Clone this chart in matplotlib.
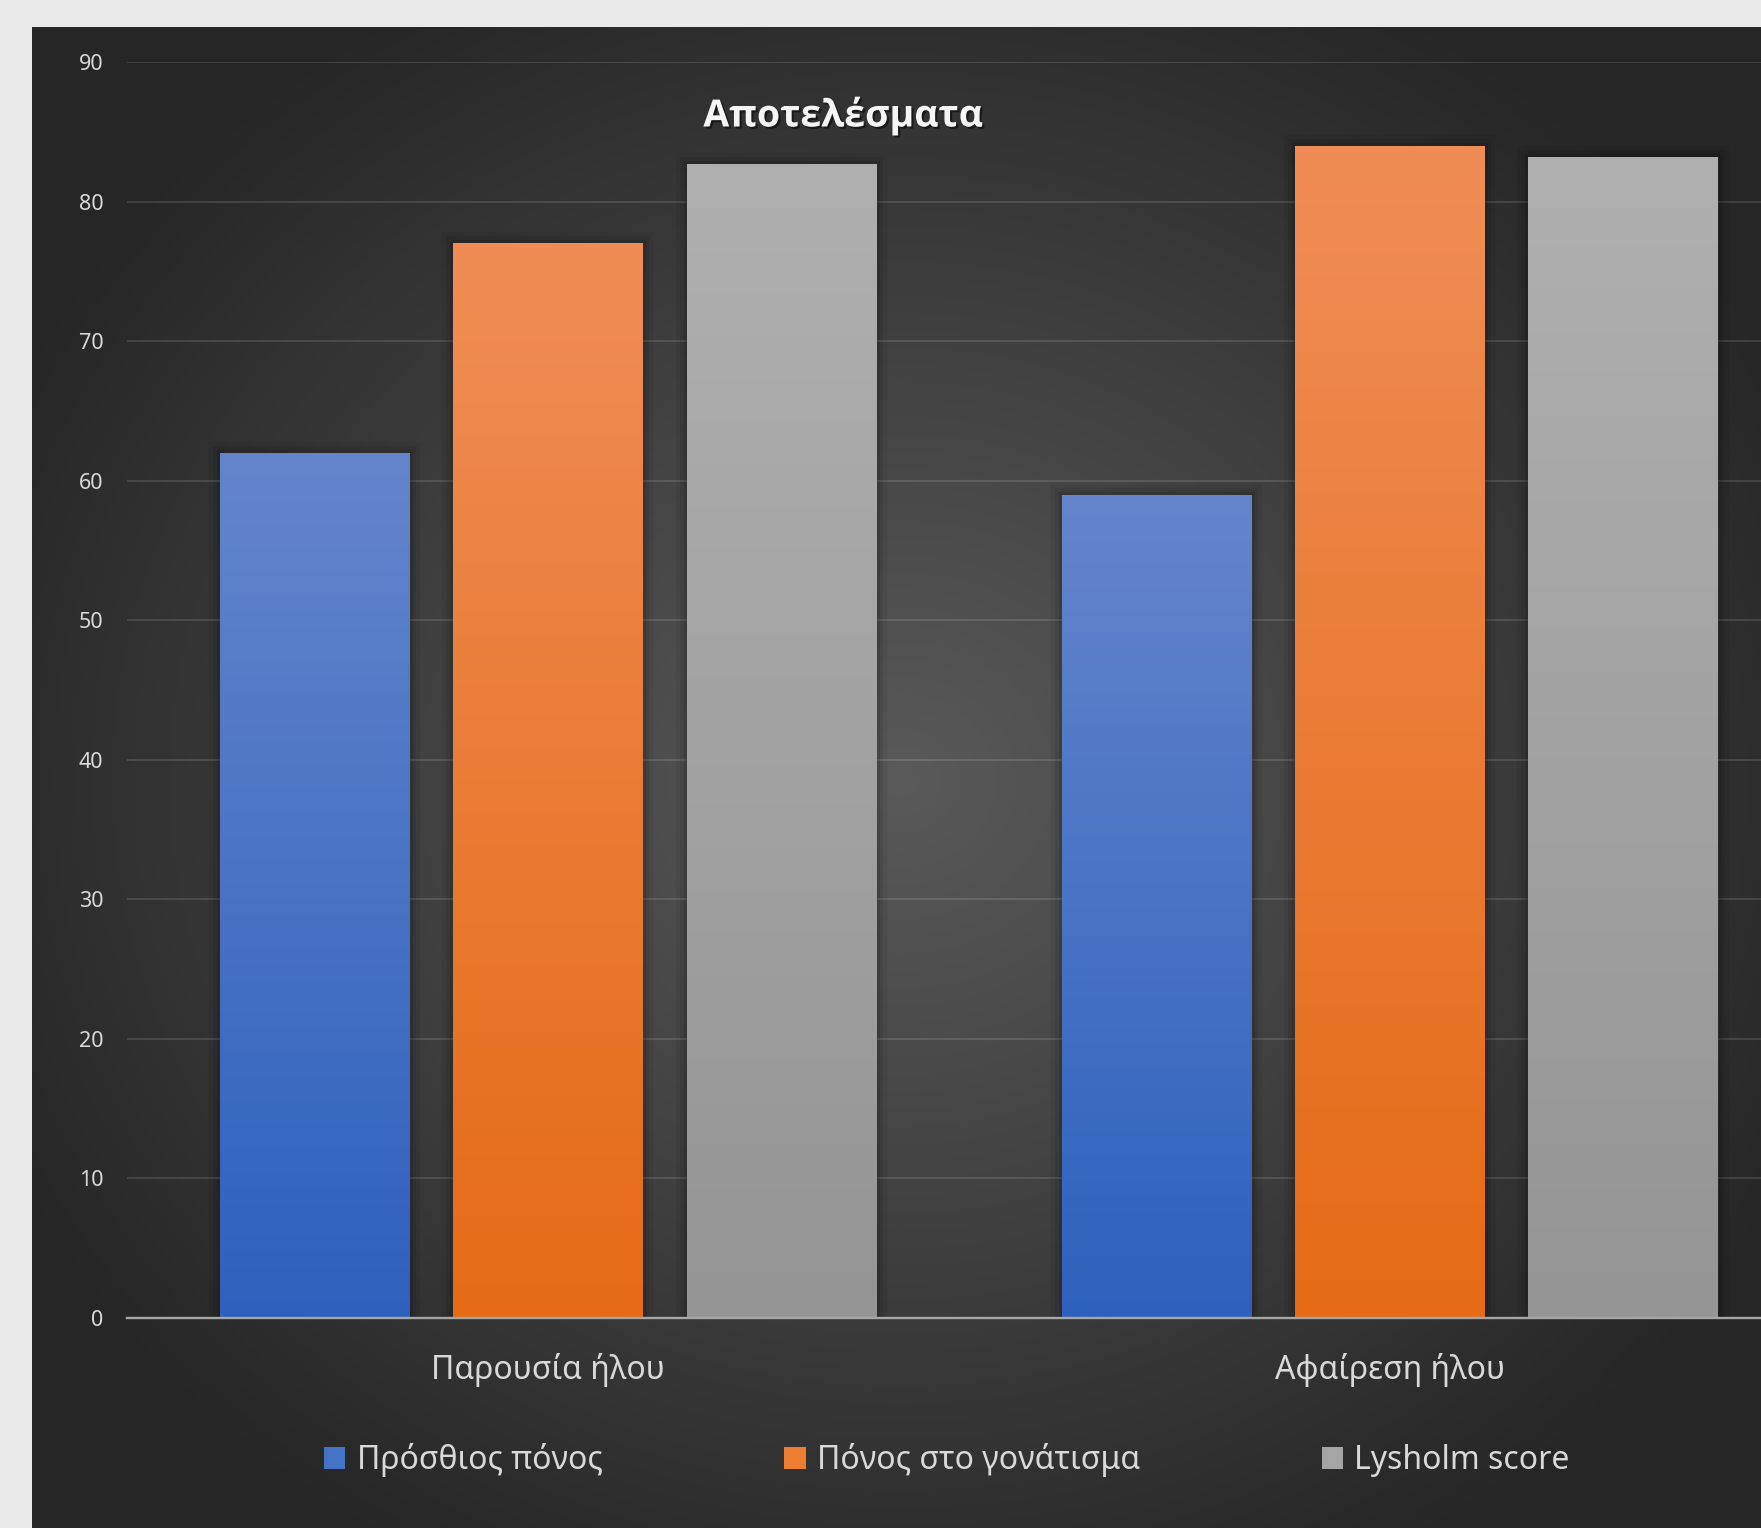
#coding=utf-8
import numpy as np
import matplotlib
matplotlib.use('Agg')
import matplotlib.pyplot as plt
from matplotlib.patches import Patch
import matplotlib.patheffects as pe

plt.rcParams['font.family'] = ['Noto Sans', 'DejaVu Sans']

# data
categories = ['Παρουσία ήλου', 'Αφαίρεση ήλου']
series_names = ['Πρόσθιος πόνος', 'Πόνος στο γονάτισμα', 'Lysholm score']
prosthios = [62, 59]
gonatisma = [77, 84]
lysholm = [82.7, 83.2]
yticks = [0, 10, 20, 30, 40, 50, 60, 70, 80, 90]
title = 'Αποτελέσματα'

# colours (top, bottom) of each bar gradient
grads = [('#6485CC', '#2E61BD'), ('#F08D56', '#E56B16'), ('#B0B0B0', '#959595')]
mids = ['#4472C4', '#ED7D31', '#A5A5A5']

W, H = 1761, 1528
fig = plt.figure(figsize=(W/100, H/100), dpi=100, facecolor='#EAEAEA')

# dark chart background with radial gradient
px0, py0 = 32, 27
bg = fig.add_axes([px0/W, 0, 1-px0/W, 1-py0/H])
yy, xx = np.mgrid[py0:H, px0:W]
cx, cy = 900, 780
r = np.sqrt(((xx-cx)/1000.0)**2 + ((yy-cy)/900.0)**2)
r = np.clip(r, 0, 1)
c_in = np.array([0x5A, 0x5A, 0x5A])/255.0
c_out = np.array([0x26, 0x26, 0x26])/255.0
img = c_in[None, None, :]*(1-r[..., None]) + c_out[None, None, :]*r[..., None]
bg.imshow(img, aspect='auto', interpolation='bilinear')
bg.axis('off')
bg.set_zorder(-10)

# plot area
ax = fig.add_axes([127/W, 1-1318/H, 1-127/W, (1318-62)/H])
ax.set_facecolor('none')

x = np.arange(len(categories))
off = 0.277
bw = 0.2246
data = [prosthios, gonatisma, lysholm]

def hex2rgb(h):
    h = h.lstrip('#')
    return np.array([int(h[i:i+2], 16) for i in (0, 2, 4)])/255.0

for k, vals in enumerate(data):
    bars = ax.bar(x+(k-1)*off, vals, bw, color=mids[k], zorder=3, linewidth=0)
    top, bot = hex2rgb(grads[k][0]), hex2rgb(grads[k][1])
    t = np.linspace(0, 1, 256)[:, None, None]
    g = top[None, None, :]*(1-t) + bot[None, None, :]*t
    for b in bars:
        b.set_path_effects([pe.Stroke(linewidth=16, foreground='k', alpha=0.05),
                            pe.Stroke(linewidth=10, foreground='k', alpha=0.07),
                            pe.Stroke(linewidth=5, foreground='k', alpha=0.1),
                            pe.Normal()])
        x0 = b.get_x()
        im = ax.imshow(g, extent=[x0, x0+b.get_width(), 0, b.get_height()],
                       aspect='auto', zorder=3.5, interpolation='bilinear')
        im.set_clip_path(b)

ax.set_xlim(-0.5, (W-548.5)/841.5)
ax.set_ylim(0, 90)
ax.set_yticks(yticks)
ax.set_xticks(x)
ax.set_xticklabels(categories, fontsize=23, color='#D9D9D9')
ax.tick_params(axis='y', length=0, pad=17, labelsize=15.5, labelcolor='#D9D9D9')
ax.tick_params(axis='x', length=0, pad=25.5)
ax.grid(axis='y', color='white', alpha=0.12, linewidth=1.5, zorder=1)
ax.set_axisbelow(True)
for s in ['top', 'right', 'left']:
    ax.spines[s].set_visible(False)
ax.spines['bottom'].set_color('#A6A6A6')
ax.spines['bottom'].set_linewidth(1.7)
ax.spines['bottom'].set_zorder(5)

# title
fig.text(843/W, 1-116/H, title, ha='center', va='center', fontsize=27,
         fontweight='bold', color='#F5F5F5', family=['Open Sans', 'DejaVu Sans'],
         path_effects=[pe.withSimplePatchShadow(offset=(1.5, -1.5), shadow_rgbFace='k', alpha=0.5)])

# legend
handles = [Patch(facecolor=mids[k], edgecolor='none') for k in range(3)]
fig.legend(handles, series_names, loc='center', bbox_to_anchor=(947/W, 1-1460/H),
           ncol=3, frameon=False, fontsize=23, labelcolor='#D9D9D9',
           handlelength=0.66, handleheight=0.66, handletextpad=0.35, columnspacing=5.7)

fig.savefig('out.png', dpi=100, facecolor=fig.get_facecolor())
